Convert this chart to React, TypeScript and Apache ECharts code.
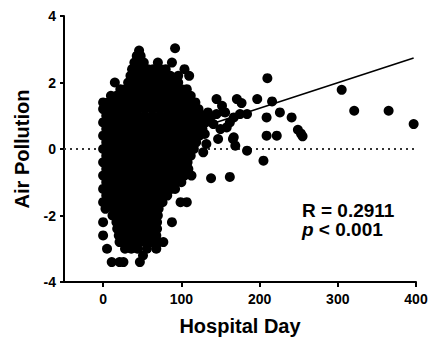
import React, { useEffect, useRef } from "react";
import * as echarts from "echarts";

const FONT = '"Liberation Sans", Arial, Helvetica, sans-serif';

// Axis ticks
const xTicks = [0, 100, 200, 300, 400];
const xMin = -50;
const xMax = 400;
const yMin = -4;
const yMax = 4;
const yStep = 2;

// Dense cloud of observations, read row by row (y value, then the x values in that row)
const coreRows: [number, number[]][] = [
  [2.8, [43, 48]],
  [2.6, [40, 46, 52, 70, 88]],
  [2.4, [37, 43, 50, 57, 64, 73, 80, 104]],
  [2.2, [35, 41, 48, 55, 62, 70, 78, 86, 96, 110]],
  [2.0, [15, 32, 40, 47, 55, 63, 71, 80, 88, 96]],
  [1.8, [22, 29, 36, 44, 52, 60, 68, 76, 84, 92, 100, 107]],
  [1.6, [10, 17, 25, 33, 41, 49, 57, 65, 73, 81, 89, 97, 105, 112]],
  [1.4, [0, 7, 15, 23, 31, 39, 47, 55, 63, 71, 79, 87, 95, 103, 111, 118]],
  [1.2, [0, 9, 18, 27, 36, 45, 54, 63, 72, 81, 90, 99, 108, 116, 122]],
  [1.0, [4, 13, 23, 33, 43, 53, 63, 73, 83, 93, 103, 112, 120, 127]],
  [0.8, [0, 9, 19, 29, 39, 49, 59, 69, 79, 89, 99, 109, 118, 124, 131]],
  [0.6, [4, 14, 24, 34, 44, 54, 64, 74, 84, 94, 104, 113, 121, 127]],
  [0.4, [0, 9, 19, 29, 39, 49, 59, 69, 79, 89, 99, 109, 117, 123]],
  [0.2, [4, 14, 24, 34, 44, 54, 64, 74, 84, 94, 104, 113, 119]],
  [0.0, [0, 9, 19, 29, 39, 49, 59, 69, 79, 89, 99, 106, 116]],
  [-0.2, [4, 14, 24, 34, 44, 54, 64, 74, 84, 94, 104, 112]],
  [-0.4, [0, 9, 19, 29, 39, 49, 59, 69, 79, 89, 99, 108]],
  [-0.6, [4, 14, 24, 34, 44, 54, 64, 74, 84, 94, 103, 109]],
  [-0.8, [0, 9, 19, 29, 39, 49, 59, 69, 79, 89, 98, 104, 113]],
  [-1.0, [4, 14, 24, 34, 44, 54, 64, 74, 84, 93, 100]],
  [-1.2, [0, 9, 19, 29, 39, 49, 59, 69, 79, 87, 92]],
  [-1.4, [4, 14, 24, 34, 44, 54, 64, 74, 82]],
  [-1.6, [0, 9, 19, 29, 39, 49, 59, 68, 76, 99, 107]],
  [-1.8, [3, 13, 23, 33, 43, 53, 63, 71]],
  [-2.0, [12, 20, 29, 38, 47, 56, 64, 70]],
  [-2.2, [0, 17, 25, 34, 43, 52, 61, 69, 88]],
  [-2.4, [18, 27, 36, 45, 54, 62, 69]],
  [-2.6, [0, 20, 29, 38, 47, 55, 63, 68]],
  [-2.8, [21, 30, 39, 47, 55, 63, 71, 77]],
  [-3.0, [5, 28, 36, 44, 56, 68]],
  [-3.2, [51]],
  [-3.4, [11, 21, 26, 47]],
];

// Scattered observations outside the dense cloud
const sparseX = [46, 92, 124, 134, 145, 152, 154, 145, 137, 141, 150, 158, 167, 162, 175, 184, 177,
  167, 169, 147, 132, 128, 138, 162, 184, 197, 209, 209, 222, 205, 210, 216, 226, 241,
  249, 253, 255, 305, 321, 365, 397, 171, 156, 166, 130];
const sparseY = [2.96, 3.03, 1.05, 1.1, 1.5, 1.3, 1.12, 1.05, 0.95, 0.75, 0.6, 0.65, 0.95, 0.8, 1.05, 1.05, 1.38,
  0.35, 0.1, 0.3, 0.15, -0.1, -0.88, -0.84, -0.05, 1.5, 0.95, 0.4, 0.4, -0.35, 2.13, 1.43, 1.1, 0.95,
  0.58, 0.46, 0.38, 1.78, 1.15, 1.15, 0.75, 1.5, 1.1, 0.3, 0.45];

// Regression line end points
const regX = [0, 397];
const regY = [-0.31, 2.74];

// Reference line at zero
const zeroX = [xMin, xMax];
const zeroY = [0, 0];

const statR = "R = 0.2911";
const statP = "< 0.001";

export default function App() {
  const ref = useRef<HTMLDivElement>(null);
  useEffect(() => {
    if (!ref.current) return;
    const chart = echarts.init(ref.current, undefined, { renderer: "svg" });

    const points: [number, number][] = [];
    coreRows.forEach(([y, xs]) => xs.forEach((x) => points.push([x, y])));
    sparseX.forEach((x, i) => points.push([x, sparseY[i]]));

    const labelStyle = { fontSize: 14, fontWeight: "bold" as const, fontFamily: FONT, color: "#000" };
    const nameStyle = { fontSize: 20, fontWeight: "bold" as const, fontFamily: FONT, color: "#000" };

    chart.setOption({
      animation: false,
      grid: { left: 64, right: 17, top: 16, bottom: 61, containLabel: false },
      xAxis: {
        type: "value",
        min: xMin,
        max: xMax,
        name: "Hospital Day",
        nameLocation: "middle",
        nameGap: 34,
        nameTextStyle: nameStyle,
        axisLine: { onZero: false, lineStyle: { color: "#000", width: 2 } },
        axisTick: { show: true, customValues: xTicks, length: 5, lineStyle: { color: "#000", width: 2 } },
        axisLabel: { customValues: xTicks, margin: 10, ...labelStyle },
        splitLine: { show: false },
      },
      yAxis: {
        type: "value",
        min: yMin,
        max: yMax,
        interval: yStep,
        name: "Air Pollution",
        nameLocation: "middle",
        nameGap: 32,
        nameTextStyle: nameStyle,
        axisLine: { onZero: false, lineStyle: { color: "#000", width: 2 } },
        axisTick: { show: true, length: 4, lineStyle: { color: "#000", width: 2 } },
        axisLabel: { margin: 8, ...labelStyle },
        splitLine: { show: false },
      },
      series: [
        {
          type: "line",
          z: 1,
          data: zeroX.map((x, i) => [x, zeroY[i]]),
          showSymbol: false,
          symbol: "none",
          lineStyle: { color: "#333", width: 2, type: [2, 4] },
          silent: true,
        },
        {
          type: "scatter",
          z: 2,
          data: points,
          symbol: "circle",
          symbolSize: 10,
          itemStyle: { color: "#000", opacity: 1 },
          silent: true,
        },
        {
          type: "line",
          z: 3,
          data: regX.map((x, i) => [x, regY[i]]),
          showSymbol: false,
          symbol: "none",
          lineStyle: { color: "#000", width: 1.6 },
          silent: true,
        },
      ],
      graphic: [
        {
          type: "text",
          x: 302,
          y: 210,
          style: {
            text: statR,
            fontSize: 19,
            fontWeight: "bold",
            fontFamily: FONT,
            fill: "#000",
            align: "left",
            verticalAlign: "middle",
          },
        },
        {
          type: "text",
          x: 302,
          y: 229,
          style: {
            text: "{i|p}{r| " + statP + "}",
            fill: "#000",
            align: "left",
            verticalAlign: "middle",
            rich: {
              i: { fontStyle: "italic", fontWeight: "bold", fontSize: 19, lineHeight: 19, fontFamily: FONT, fill: "#000" },
              r: { fontWeight: "bold", fontSize: 19, lineHeight: 19, fontFamily: FONT, fill: "#000" },
            },
          },
        },
      ],
    });
    return () => chart.dispose();
  }, []);

  return (
    <div
      ref={ref}
      style={{ position: "absolute", left: 0, top: 0, width: 433, height: 343 }}
    />
  );
}
